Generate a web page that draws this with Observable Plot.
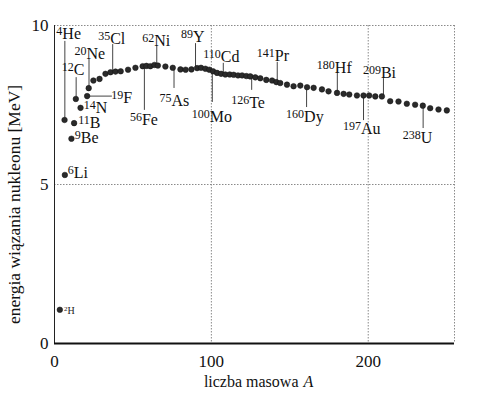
<!DOCTYPE html>
<html>
<head>
<meta charset="utf-8">
<script src="https://cdn.jsdelivr.net/npm/d3@7"></script>
<script src="https://cdn.jsdelivr.net/npm/@observablehq/plot@0.6"></script>
<style>
  html, body { margin: 0; padding: 0; background: #fff; }
</style>
</head>
<body>
<div id="chart"></div>
<script>
// Mass number A and binding energy per nucleon (MeV)
const massA = [3.4, 6.4, 6.6, 10.8, 12.5, 13.6, 16.6, 20.8, 21.8,
  24.8, 28.7, 32.5, 35.7, 38.9, 42.2, 46.9, 51.6, 56.2, 58.6, 61.1, 63.7, 65.9, 70.7, 75.4,
  80.3, 83.6, 87.3, 90.9, 93.4, 96.2, 98.7, 101.1, 103.6, 106.2, 108.9, 111.7, 114.2, 117.0,
  119.6, 122.3, 124.8, 128.0, 131.2, 135.0, 138.7, 141.4, 143.9, 148.2, 152.4, 156.7, 161.0,
  165.2, 170.5, 174.7, 180.1, 184.3, 187.9, 192.8, 197.0, 200.6, 204.5, 208.7, 214.0, 219.3,
  224.6, 229.9, 234.8, 239.5, 244.8, 250.1];
const bindingE = [1.06, 7.03, 5.30, 6.44, 6.93, 7.69, 7.41, 7.78, 8.03,
  8.27, 8.32, 8.48, 8.53, 8.55, 8.56, 8.61, 8.67, 8.72, 8.73, 8.72, 8.76, 8.74, 8.71, 8.67,
  8.62, 8.61, 8.62, 8.66, 8.67, 8.64, 8.61, 8.56, 8.51, 8.48, 8.46, 8.46, 8.45, 8.43,
  8.43, 8.41, 8.40, 8.37, 8.34, 8.29, 8.27, 8.22, 8.19, 8.14, 8.09, 8.11, 8.06,
  8.04, 7.99, 7.93, 7.88, 7.85, 7.83, 7.80, 7.80, 7.80, 7.77, 7.77, 7.62, 7.61,
  7.54, 7.51, 7.48, 7.40, 7.36, 7.33];

// Isotope labels
const labelMass = ["4","12","20","35","62","89","110","141","180","209",
  "56","75","100","126","160","197","238", "14","11","9","6","19"];
const labelSym = ["He","C","Ne","Cl","Ni","Y","Cd","Pr","Hf","Bi",
  "Fe","As","Mo","Te","Dy","Au","U", "N","B","Be","Li","F"];
const labelA = [6.6, 13.8, 22.0, 37.1, 65.2, 89.9, 107.6, 142.0, 180.3, 209.7,
  57.3, 76.2, 100.6, 125.7, 160.7, 197.0, 235.0, 27.9, 24.1, 18.4, 13.9, 45.4];
const labelE = [9.56, 8.43, 8.96, 9.43, 9.37, 9.47, 8.84, 8.87, 8.52, 8.36,
  6.86, 7.48, 6.95, 7.42, 6.95, 6.60, 6.32, 7.26, 6.77, 6.29, 5.19, 7.55];

// Small deuterium label
const hMass = ["2"], hSym = ["H"], hA = [9.2], hE = [0.94];

// Leader lines (vertical)
const leaderA = [6.6, 13.8, 22.0, 37.1, 65.2, 89.9, 107.6, 142.0, 180.3, 209.7,
  57.3, 76.2, 100.6, 125.7, 160.7, 197.0, 235.0];
const leaderFrom = [7.03, 7.69, 8.03, 8.53, 8.76, 8.66, 8.47, 8.22, 7.88, 7.77,
  8.72, 8.67, 8.56, 8.40, 8.06, 7.80, 7.48];
const leaderTo = [9.50, 8.36, 8.93, 9.40, 9.34, 9.43, 8.81, 8.84, 8.49, 8.33,
  7.33, 8.02, 7.58, 7.96, 7.42, 7.01, 6.76];
// Horizontal leader for 19F
const hLeaderFrom = [20.8], hLeaderTo = [36.9], hLeaderE = [7.78];

const xTicks = [0, 100, 200];
const yTicks = [0, 5, 10];

const points = massA.map((a, i) => ({a, e: bindingE[i]}));
const labels = labelMass.map((m, i) => ({m, s: labelSym[i], a: labelA[i], e: labelE[i]}));
const hLabels = hMass.map((m, i) => ({m, s: hSym[i], a: hA[i], e: hE[i]}));
const leaders = leaderA.map((a, i) => ({a, e1: leaderFrom[i], e2: leaderTo[i]}));
const hLeaders = hLeaderE.map((e, i) => ({e, a1: hLeaderFrom[i], a2: hLeaderTo[i]}));

const dotted = {stroke: "#8a8a8a", strokeDasharray: "1.5,1.5", strokeWidth: 1};

const chart = Plot.plot({
  width: 480,
  height: 399,
  marginLeft: 54,
  marginRight: 26,
  marginTop: 25,
  marginBottom: 56,
  style: {fontFamily: "'Liberation Serif', 'DejaVu Serif', serif", fontSize: "16px", background: "#fff", color: "#111"},
  x: {domain: [0, 255]},
  y: {domain: [0, 10]},
  marks: [
    Plot.ruleX([100, 200], dotted),
    Plot.ruleY([5], dotted),
    Plot.ruleX([255], dotted),
    Plot.ruleY([10], dotted),
    Plot.ruleX([0], {stroke: "#222", strokeWidth: 1}),
    Plot.ruleY([0], {stroke: "#111", strokeWidth: 2}),
    Plot.axisX({ticks: xTicks, tickSize: 0, tickPadding: 11, fontSize: 17, label: null}),
    Plot.axisY({ticks: yTicks, tickSize: 0, tickPadding: 6, fontSize: 17, label: null}),
    Plot.ruleX(leaders, {x: "a", y1: "e1", y2: "e2", stroke: "#444", strokeWidth: 1}),
    Plot.ruleY(hLeaders, {y: "e", x1: "a1", x2: "a2", stroke: "#444", strokeWidth: 1}),
    Plot.dot(points, {x: "a", y: "e", r: 2.8, fill: "#2a2a2a", stroke: "#111", strokeWidth: 0.5}),
    Plot.text(labels, {x: "a", y: "e", text: "s", textAnchor: "start", lineAnchor: "bottom", dx: -2.5, fontSize: 16, fill: "#111"}),
    Plot.text(labels, {x: "a", y: "e", text: "m", textAnchor: "end", lineAnchor: "bottom", dx: -2.5, dy: -4, fontSize: 12, fill: "#111"}),
    Plot.text(hLabels, {x: "a", y: "e", text: "s", textAnchor: "start", lineAnchor: "bottom", dx: -1.5, fontSize: 10, fill: "#222"}),
    Plot.text(hLabels, {x: "a", y: "e", text: "m", textAnchor: "end", lineAnchor: "bottom", dx: -1.5, dy: -3, fontSize: 7, fill: "#222"}),
    Plot.text(["liczba masowa"], {frameAnchor: "bottom", textAnchor: "end", lineAnchor: "bottom", dx: 44, dy: 43, fontSize: 16, fill: "#111"}),
    Plot.text(["A"], {frameAnchor: "bottom", textAnchor: "start", lineAnchor: "bottom", dx: 49, dy: 43, fontSize: 16, fontStyle: "italic", fill: "#111"}),
    Plot.text(["energia wiązania nukleonu [MeV]"], {frameAnchor: "left", rotate: -90, lineAnchor: "middle", textAnchor: "middle", dx: -40, dy: 20, fontSize: 17.5, fill: "#111"})
  ]
});
document.getElementById("chart").appendChild(chart);
</script>
</body>
</html>
